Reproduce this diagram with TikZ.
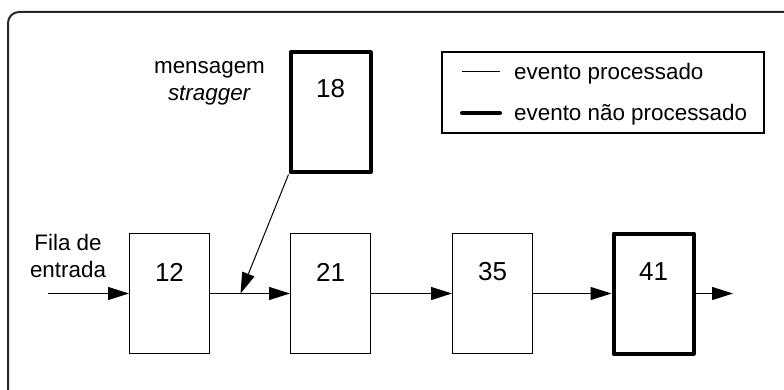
\documentclass[tikz,border=0pt]{standalone}
\usepackage{fontspec}
\setmainfont{Liberation Sans}
\usetikzlibrary{arrows.meta}
\tikzset{
  x=1pt, y=-1pt,
  txt/.style={font=\fontsize{22.4}{27}\selectfont, inner sep=0pt, align=center},
  num/.style={font=\fontsize{26}{30}\selectfont, inner sep=0pt},
  evbox/.style={draw, line width=1pt, minimum width=80pt, minimum height=120pt, inner sep=0pt},
  evboxbold/.style={evbox, line width=4pt, line join=round},
  flow/.style={line width=1pt, -{Triangle[length=21pt,width=13pt]}},
}
\begin{document}
\begin{tikzpicture}
  \useasboundingbox (0,0) rectangle (784,390);
  \begin{scope}
    \clip (0,0) rectangle (784,390);
    \draw[line width=2pt, draw=black!85, rounded corners=11pt] (8,12) rectangle (830,430);
  \end{scope}

  % events in the input queue
  \node[evbox,     label={[num,yshift=21.5pt]center:12}] (e12) at (169.5,293.5) {};
  \node[evbox,     label={[num,yshift=21.5pt]center:21}] (e21) at (330.5,293.5) {};
  \node[evbox,     label={[num,yshift=21.5pt]center:35}] (e35) at (492.5,293.5) {};
  \node[evboxbold, label={[num,yshift=21.5pt]center:41}] (e41) at (653.5,293.5) {};
  % straggler message
  \node[evboxbold, label={[num,yshift=24pt]center:18}] (e18) at (330.5,112.5) {};

  \node[txt] (fila) at (68,256) {Fila de\\entrada};
  \node[txt] (msg) at (209.5,83.5) {mensagem\\\textit{stragger}};

  \coordinate (in) at (48,293.5);
  \coordinate (out) at (733,293.5);
  \coordinate (hit) at (240.5,293.5);

  \draw[flow] (in) -- (e12.west);
  \draw[flow] (e12.east) -- (e21.west);
  \draw[flow] (e21.east) -- (e35.west);
  \draw[flow] (e35.east) -- (e41.west);
  \draw[flow] (e41.east) -- (out);
  \draw[flow] (e18.south west) -- (hit);

  % legend
  \node[draw, line width=1.2pt, minimum width=322pt, minimum height=81pt, inner sep=0pt] (legend) at (603,92.5) {};
  \coordinate (l1a) at (462,72);
  \coordinate (l1b) at (500,72);
  \coordinate (l2a) at (462,113);
  \coordinate (l2b) at (500,113);
  \draw[line width=1pt] (l1a) -- (l1b);
  \draw[line width=4pt, line cap=round] (l2a) -- (l2b);
  \node[txt, anchor=west] (lt1) at (514,74) {evento processado};
  \node[txt, anchor=west] (lt2) at (514,115) {evento não processado};
\end{tikzpicture}
\end{document}
